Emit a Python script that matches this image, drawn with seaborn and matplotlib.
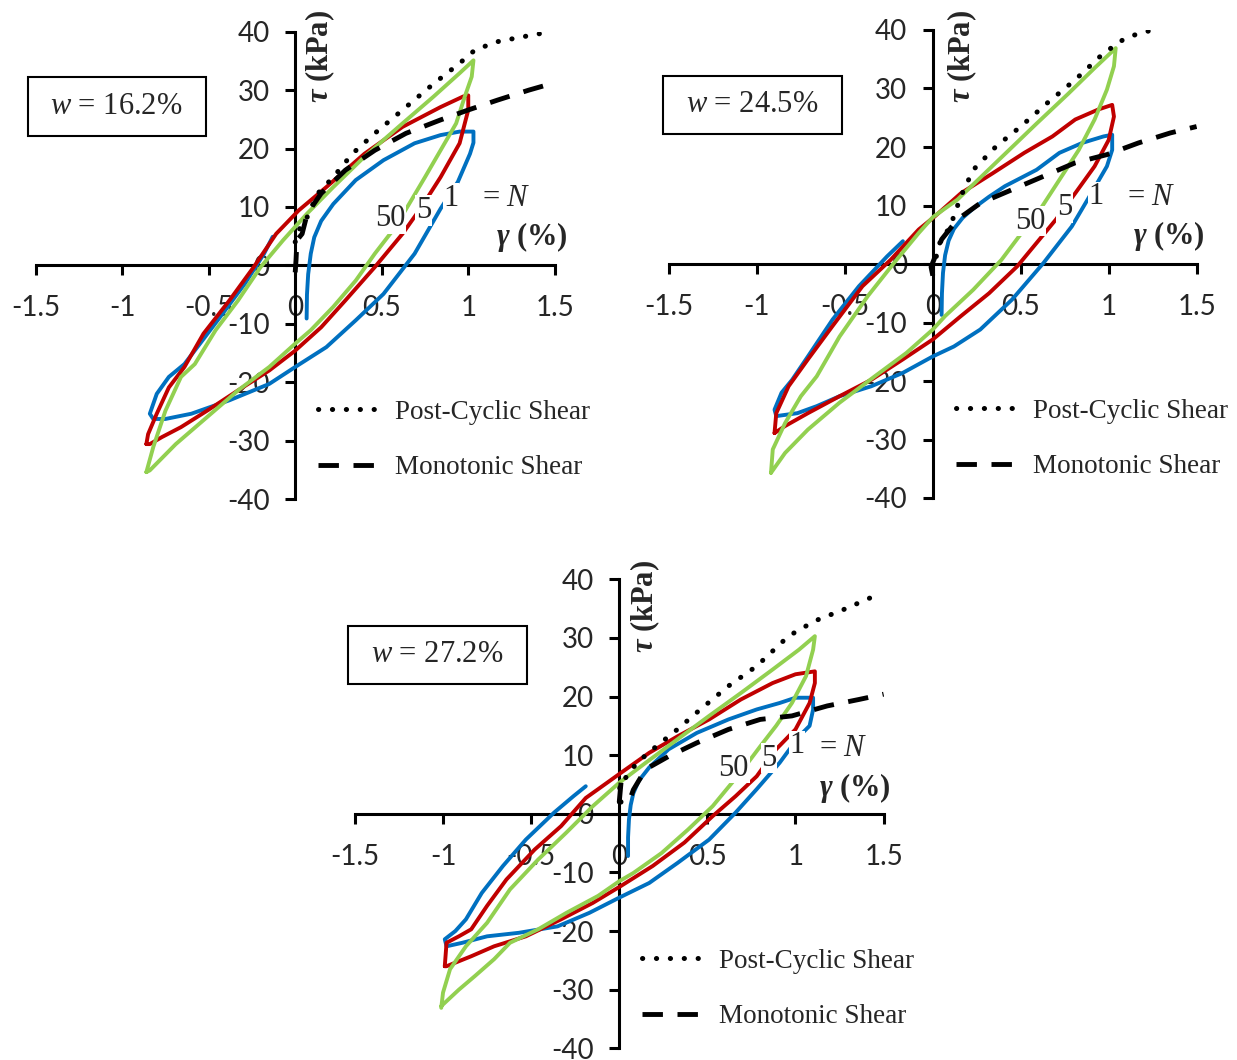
import matplotlib
matplotlib.use("Agg")
import matplotlib.pyplot as plt
from matplotlib.patches import Rectangle
import seaborn as sns
import pandas as pd

# ---------------- data ----------------
x_ticks = [-1.5, -1, -0.5, 0, 0.5, 1, 1.5]
y_ticks = [-40, -30, -20, -10, 0, 10, 20, 30, 40]
panel_titles = ["16.2%", "24.5%", "27.2%"]
cycle_labels = ["50", "5", "1"]

# Panel 1 (w = 16.2%)
p1_blue_x = [0.066, 0.068, 0.075, 0.09, 0.11, 0.15, 0.22, 0.35, 0.51, 0.69, 0.84, 0.95, 1.03, 1.03, 1.01, 0.94, 0.84, 0.69, 0.51, 0.35, 0.18, 0.0, -0.15, -0.38, -0.6, -0.75, -0.82, -0.84, -0.80, -0.73, -0.64, -0.55, -0.42, -0.29, -0.18, -0.13]
p1_blue_y = [-9.1, -5.0, -1.5, 2.0, 4.8, 7.6, 10.5, 14.6, 18.0, 20.9, 22.3, 22.9, 22.9, 21.0, 19.1, 14.3, 9.7, 2.0, -4.9, -9.4, -14.0, -17.4, -20.3, -23.1, -25.4, -26.3, -26.3, -25.4, -22.0, -19.1, -16.9, -13.4, -8.3, -3.1, 2.0, 4.9]
p1_red_x = [-0.86, -0.85, -0.80, -0.73, -0.64, -0.53, -0.38, -0.24, -0.11, 0.02, 0.18, 0.40, 0.62, 0.84, 0.97, 1.00, 1.00, 0.95, 0.84, 0.73, 0.62, 0.46, 0.29, 0.15, 0.0, -0.15, -0.33, -0.51, -0.66, -0.77, -0.84, -0.86]
p1_red_y = [-30.6, -28.9, -25.4, -20.9, -17.4, -11.7, -6.0, -0.3, 5.4, 9.4, 13.4, 19.1, 23.7, 27.1, 28.9, 29.1, 26.6, 20.9, 15.1, 10.0, 5.4, -0.3, -6.0, -10.6, -14.6, -18.0, -21.4, -24.9, -27.7, -29.4, -30.6, -30.6]
p1_green_x = [-0.86, -0.82, -0.75, -0.66, -0.58, -0.46, -0.33, -0.20, -0.07, 0.07, 0.22, 0.40, 0.62, 0.80, 0.95, 1.03, 1.02, 0.98, 0.93, 0.84, 0.75, 0.66, 0.58, 0.46, 0.35, 0.22, 0.09, 0.0, -0.15, -0.33, -0.51, -0.69, -0.84, -0.86]
p1_green_y = [-35.4, -31.1, -24.9, -19.1, -16.9, -11.1, -6.0, -0.3, 4.3, 8.9, 13.4, 18.6, 24.3, 28.9, 32.9, 35.1, 32.3, 28.9, 24.3, 19.7, 15.1, 10.6, 6.6, 2.0, -2.6, -7.1, -11.1, -13.4, -17.4, -21.4, -26.0, -30.6, -35.1, -35.4]
p1_post_x = [0.0, 0.02, 0.07, 0.13, 0.22, 0.33, 0.46, 0.62, 0.80, 0.95, 1.04, 1.17, 1.31, 1.42, 1.48]
p1_post_y = [4.0, 6.0, 8.3, 12.3, 15.1, 19.1, 22.6, 26.6, 31.1, 34.6, 36.9, 38.3, 39.1, 39.7, 40.0]
p1_mono_x = [0.0, 0.005, 0.01, 0.04, 0.07, 0.15, 0.29, 0.46, 0.64, 0.84, 1.0, 1.17, 1.35, 1.48]
p1_mono_y = [-1.2, 1.0, 4.3, 5.4, 8.9, 12.3, 16.3, 19.7, 22.6, 24.9, 26.6, 28.3, 30.0, 31.1]

# Panel 2 (w = 24.5%)
p2_blue_x = [0.05, 0.052, 0.058, 0.07, 0.09, 0.12, 0.17, 0.23, 0.32, 0.41, 0.59, 0.72, 0.85, 0.97, 1.02, 1.02, 0.99, 0.88, 0.79, 0.63, 0.45, 0.27, 0.12, 0.0, -0.17, -0.35, -0.53, -0.66, -0.77, -0.89, -0.90, -0.86, -0.80, -0.71, -0.57, -0.42, -0.26, -0.17]
p2_blue_y = [-8.7, -5.0, -1.5, 1.5, 4.0, 6.0, 7.9, 9.5, 11.5, 13.3, 16.1, 19.0, 20.7, 21.8, 22.1, 19.5, 16.7, 11.0, 6.4, 0.2, -6.1, -11.2, -14.1, -15.8, -18.6, -20.9, -22.6, -24.3, -25.5, -26.0, -24.9, -22.0, -19.8, -15.8, -9.5, -3.8, 1.3, 3.9]
p2_red_x = [-0.90, -0.89, -0.82, -0.71, -0.57, -0.40, -0.24, -0.08, 0.01, 0.16, 0.34, 0.52, 0.68, 0.81, 0.94, 1.02, 1.03, 1.00, 0.92, 0.81, 0.70, 0.59, 0.48, 0.32, 0.16, 0.0, -0.17, -0.35, -0.53, -0.71, -0.84, -0.90]
p2_red_y = [-28.9, -25.5, -20.9, -16.3, -10.6, -3.8, 0.7, 5.9, 8.1, 12.1, 15.5, 19.0, 21.8, 24.7, 26.4, 27.2, 25.2, 21.2, 16.7, 12.1, 7.6, 3.6, -0.4, -5.0, -8.9, -12.9, -16.3, -19.8, -22.6, -25.5, -27.7, -28.9]
p2_green_x = [-0.92, -0.91, -0.84, -0.75, -0.66, -0.53, -0.37, -0.22, -0.08, 0.0, 0.14, 0.41, 0.59, 0.77, 0.92, 1.04, 1.03, 0.99, 0.92, 0.83, 0.72, 0.61, 0.52, 0.39, 0.23, 0.07, 0.0, -0.15, -0.33, -0.53, -0.71, -0.84, -0.92]
p2_green_y = [-35.7, -31.7, -27.2, -22.6, -19.2, -12.4, -5.5, 0.2, 5.3, 8.0, 11.0, 18.8, 24.0, 29.1, 33.5, 36.9, 33.8, 29.8, 24.7, 19.5, 14.4, 9.3, 5.9, 0.7, -4.4, -8.9, -11.2, -15.2, -19.2, -23.7, -28.3, -32.3, -35.7]
p2_post_x = [0.02, 0.04, 0.10, 0.16, 0.23, 0.36, 0.50, 0.65, 0.81, 0.97, 1.08, 1.16, 1.25]
p2_post_y = [1.3, 3.6, 6.5, 11.6, 16.1, 20.1, 23.5, 27.5, 31.5, 36.0, 38.3, 39.3, 40.0]
p2_mono_x = [0.0, -0.01, 0.01, 0.05, 0.14, 0.27, 0.45, 0.63, 0.81, 0.99, 1.17, 1.35, 1.50]
p2_mono_y = [-2.0, -0.5, 1.0, 4.2, 7.6, 10.4, 12.7, 15.0, 17.3, 18.7, 20.7, 22.4, 23.5]

# Panel 3 (w = 27.2%)
p3_blue_x = [0.05, 0.05, 0.055, 0.065, 0.08, 0.11, 0.17, 0.28, 0.44, 0.62, 0.78, 0.91, 1.00, 1.10, 1.10, 1.08, 1.02, 0.91, 0.78, 0.66, 0.51, 0.33, 0.17, 0.0, -0.17, -0.35, -0.57, -0.75, -0.89, -0.98, -0.99, -0.93, -0.87, -0.78, -0.66, -0.53, -0.37, -0.26, -0.19]
p3_blue_y = [-7.2, -4.0, -1.0, 1.5, 3.5, 5.6, 7.9, 11.0, 13.8, 16.1, 17.8, 18.9, 19.8, 19.8, 17.8, 15.0, 13.2, 8.7, 4.2, 0.2, -4.4, -8.4, -11.8, -14.3, -16.9, -19.2, -20.3, -20.9, -22.0, -22.6, -21.4, -20.0, -18.0, -13.5, -8.9, -4.4, 0.2, 3.0, 4.7]
p3_red_x = [-0.99, -0.98, -0.91, -0.84, -0.75, -0.64, -0.48, -0.33, -0.19, -0.12, 0.01, 0.17, 0.33, 0.51, 0.69, 0.87, 1.00, 1.11, 1.11, 1.08, 1.00, 0.89, 0.78, 0.66, 0.53, 0.37, 0.19, 0.01, -0.15, -0.33, -0.53, -0.71, -0.84, -0.98, -0.99]
p3_red_y = [-26.0, -22.0, -20.9, -19.7, -15.7, -11.2, -6.1, -2.1, 2.7, 4.2, 7.0, 10.4, 13.2, 16.1, 19.5, 22.3, 23.8, 24.3, 22.3, 18.9, 14.4, 11.0, 6.4, 3.0, -0.4, -4.9, -8.9, -12.3, -15.2, -18.0, -20.9, -22.6, -24.3, -26.0, -26.0]
p3_green_x = [-1.01, -1.00, -0.96, -0.87, -0.75, -0.62, -0.46, -0.30, -0.15, 0.0, 0.15, 0.33, 0.51, 0.69, 0.87, 1.02, 1.11, 1.10, 1.06, 0.98, 0.89, 0.80, 0.73, 0.64, 0.53, 0.39, 0.24, 0.08, 0.0, -0.12, -0.30, -0.46, -0.62, -0.71, -0.82, -0.91, -1.01]
p3_green_y = [-33.1, -30.5, -26.5, -22.6, -18.6, -12.9, -7.8, -3.2, 1.3, 5.3, 8.7, 12.7, 16.7, 20.6, 24.6, 28.0, 30.3, 28.0, 23.5, 18.9, 15.0, 11.5, 8.7, 5.3, 1.3, -2.7, -6.7, -10.1, -11.5, -14.0, -16.9, -19.7, -22.0, -24.8, -27.7, -30.0, -32.8]
p3_post_x = [0.01, 0.0, 0.03, 0.10, 0.21, 0.33, 0.46, 0.62, 0.78, 0.96, 1.11, 1.27, 1.49]
p3_post_y = [2.0, 5.3, 5.9, 8.7, 11.5, 14.4, 17.8, 21.8, 25.2, 30.3, 32.9, 34.8, 37.7]
p3_mono_x = [0.01, 0.0, 0.06, 0.08, 0.15, 0.28, 0.44, 0.62, 0.80, 0.98, 1.18, 1.36, 1.50]
p3_mono_y = [5.3, 2.0, 2.4, 4.1, 7.6, 9.8, 12.1, 14.4, 16.1, 16.7, 18.4, 19.5, 20.4]

# ---------------- style ----------------
sns.set_theme(style="white")
plt.rcParams["font.family"] = ["Liberation Serif", "DejaVu Serif"]
plt.rcParams["mathtext.fontset"] = "custom"
plt.rcParams["mathtext.rm"] = "Liberation Serif"
plt.rcParams["mathtext.it"] = "Liberation Serif:italic"
plt.rcParams["mathtext.bf"] = "Liberation Serif:bold:italic"

BLUE, RED, GREEN = "#0070C0", "#C00000", "#92D050"
SERIF = "Liberation Serif"
TICKFONT = "Lato"

fig = plt.figure(figsize=(12.37, 10.60), dpi=100)
W, H = 1237, 1060

def px_axes(left, right, top, bottom):
    return [left / W, 1 - bottom / H, (right - left) / W, (bottom - top) / H]

axes_rects = [
    px_axes(35.6, 554.8, 31.7, 499.0),
    px_axes(669.0, 1196.6, 30.0, 498.0),
    px_axes(354.9, 883.6, 579.3, 1048.3),
]
boxes = [(27.6, 76.7, 205.7, 135.7), (663.2, 76.0, 841.9, 134.0), (347.7, 626.0, 527.1, 684.0)]

panels = [
    dict(blue=(p1_blue_x, p1_blue_y), red=(p1_red_x, p1_red_y), green=(p1_green_x, p1_green_y),
         post=(p1_post_x, p1_post_y), mono=(p1_mono_x, p1_mono_y),
         lab=[(0.55, 8.0), (0.74, 9.4), (0.90, 11.5)], eqN=(1.22, 11.4), gam=(1.37, 4.8), tau=(0.145, 35.7)),
    dict(blue=(p2_blue_x, p2_blue_y), red=(p2_red_x, p2_red_y), green=(p2_green_x, p2_green_y),
         post=(p2_post_x, p2_post_y), mono=(p2_mono_x, p2_mono_y),
         lab=[(0.555, 7.35), (0.75, 9.6), (0.93, 11.5)], eqN=(1.24, 11.4), gam=(1.34, 4.8), tau=(0.17, 35.5)),
    dict(blue=(p3_blue_x, p3_blue_y), red=(p3_red_x, p3_red_y), green=(p3_green_x, p3_green_y),
         post=(p3_post_x, p3_post_y), mono=(p3_mono_x, p3_mono_y),
         lab=[(0.65, 7.8), (0.85, 9.5), (1.01, 11.6)], eqN=(1.27, 11.2), gam=(1.34, 4.4), tau=(0.15, 35.4)),
]

for i, (rect, pdat) in enumerate(zip(axes_rects, panels)):
    ax = fig.add_axes(rect)
    for key, col in (("blue", BLUE), ("red", RED), ("green", GREEN)):
        df = pd.DataFrame({"x": pdat[key][0], "y": pdat[key][1]})
        sns.lineplot(data=df, x="x", y="y", sort=False, estimator=None, color=col,
                     lw=2.8, ax=ax, zorder=3, solid_capstyle="round", solid_joinstyle="round")
    dfp = pd.DataFrame({"x": pdat["post"][0], "y": pdat["post"][1]})
    sns.lineplot(data=dfp, x="x", y="y", sort=False, estimator=None, color="black", lw=3.6,
                 linestyle=(0, (0.05, 2.73)), dash_capstyle="round", ax=ax, zorder=4,
                 label="Post-Cyclic Shear")
    dfm = pd.DataFrame({"x": pdat["mono"][0], "y": pdat["mono"][1]})
    sns.lineplot(data=dfm, x="x", y="y", sort=False, estimator=None, color="black", lw=3.5,
                 linestyle=(0, (4.2, 3.0)), ax=ax, zorder=4, label="Monotonic Shear")

    ax.set_xlim(-1.5, 1.5)
    ax.set_ylim(-40, 40)
    ax.set_xticks(x_ticks)
    ax.set_xticklabels([f"{v:g}" for v in x_ticks])
    ax.set_yticks(y_ticks)
    ax.set_yticklabels([f"{v:g}" for v in y_ticks])
    ax.set_xlabel("")
    ax.set_ylabel("")
    ax.patch.set_alpha(0)
    for s in ("top", "right"):
        ax.spines[s].set_visible(False)
    for s in ("left", "bottom"):
        ax.spines[s].set_position(("data", 0))
        ax.spines[s].set_linewidth(2.2)
        ax.spines[s].set_color("black")
        ax.spines[s].set_zorder(2.5)
    ax.tick_params(axis="both", direction="out", length=7.5, width=2.2, color="black",
                   labelsize=20, bottom=True, left=True)
    ax.tick_params(axis="x", pad=14)
    ax.tick_params(axis="y", pad=11)
    for lbl in ax.get_xticklabels() + ax.get_yticklabels():
        lbl.set_fontfamily(TICKFONT)

    # labels of cycles
    for txt, (lx, ly) in zip(cycle_labels, pdat["lab"]):
        ax.text(lx, ly, txt, fontsize=22, family=SERIF, ha="center", va="center", zorder=5,
                bbox=dict(facecolor="white", edgecolor="none", pad=0.5))
    ax.text(pdat["eqN"][0], pdat["eqN"][1], "= $N$", fontsize=22, family=SERIF,
            ha="center", va="center", zorder=5)
    ax.text(pdat["gam"][0], pdat["gam"][1], r"$\mathbf{γ}$ (%)", fontsize=22, family=SERIF,
            fontweight="bold", ha="center", va="center", zorder=5)
    ax.text(pdat["tau"][0], pdat["tau"][1], r"$\mathbf{τ}$ (kPa)", fontsize=22, family=SERIF,
            fontweight="bold", rotation=90, ha="center", va="center", zorder=5)

    ax.legend(loc="upper left", bbox_to_anchor=(0.13, -23.0), bbox_transform=ax.transData,
              frameon=False, borderpad=0, borderaxespad=0, handlelength=2.2,
              handletextpad=0.65, labelspacing=1.13, prop={"family": SERIF, "size": 19.5})

    # box with water content
    x0, y0, x1, y1 = boxes[i]
    fig.patches.append(Rectangle((x0 / W, 1 - y1 / H), (x1 - x0) / W, (y1 - y0) / H,
                                 transform=fig.transFigure, fill=False, edgecolor="black",
                                 lw=1.5, figure=fig))
    fig.text((x0 + x1) / 2 / W, 1 - (y0 + y1) / 2 / H, "$w$ = " + panel_titles[i],
             fontsize=22, family=SERIF, ha="center", va="center")

fig.savefig("out.png", dpi=100, facecolor="white")
